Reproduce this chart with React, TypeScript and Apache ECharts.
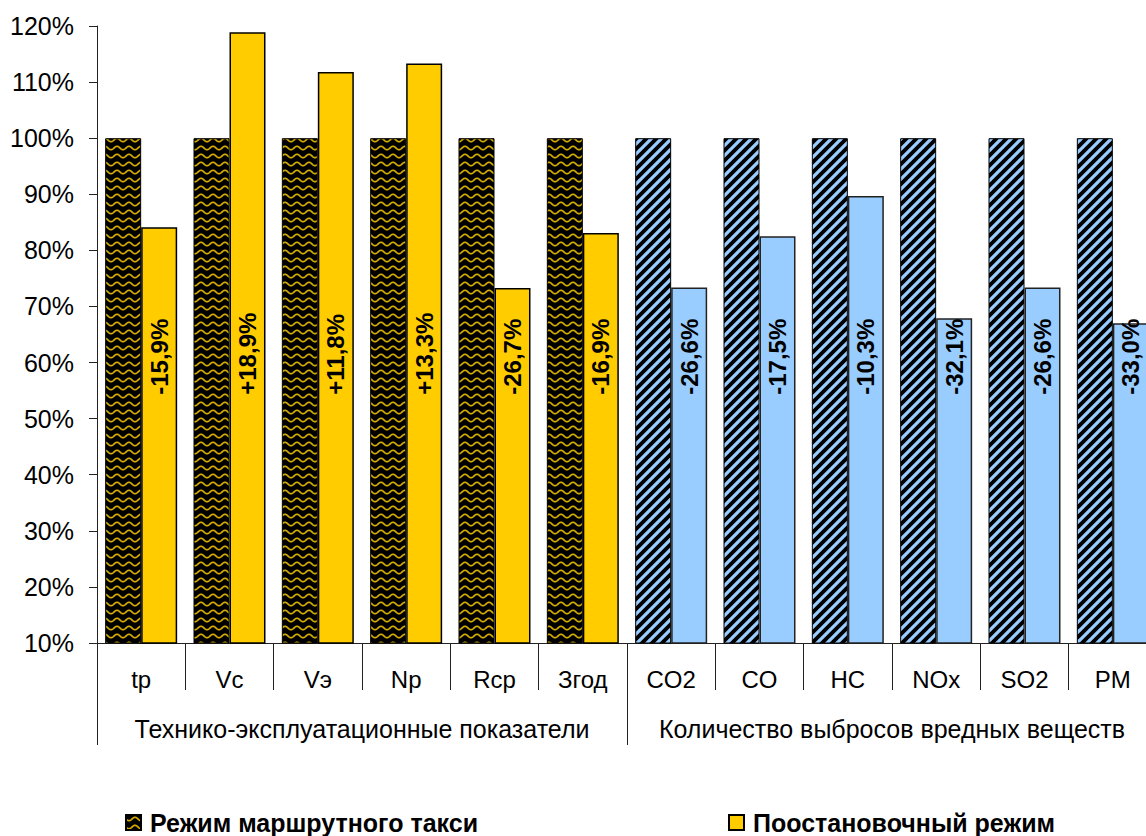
import React, { useEffect, useRef } from 'react';
import * as echarts from 'echarts';

const categories = ['tp', 'Vc', 'Vэ', 'Np', 'Rcp', 'Згод', 'CO2', 'CO', 'HC', 'NOx', 'SO2', 'PM'];
const groups = ['Технико-эксплуатационные показатели', 'Количество выбросов вредных веществ'];
const seriesNames = ['Режим маршрутного такси', 'Поостановочный режим'];
const baseValues = [100, 100, 100, 100, 100, 100, 100, 100, 100, 100, 100, 100];
const newValues = [84.1, 118.9, 111.8, 113.3, 73.3, 83.1, 73.4, 82.5, 89.7, 67.9, 73.4, 67.0];
const changeLabels = ['-15,9%', '+18,9%', '+11,8%', '+13,3%', '-26,7%', '-16,9%', '-26,6%', '-17,5%', '-10,3%', '-32,1%', '-26,6%', '-33,0%'];
const yTicks = { min: 10, max: 120, interval: 10 };

const FONT = "'Liberation Sans', Arial, sans-serif";
const YELLOW = '#FFCC00';
const BLUE = '#99CCFF';

function makeWave(): HTMLCanvasElement {
  const w = 12, h = 8;
  const c = document.createElement('canvas');
  c.width = w; c.height = h;
  const g = c.getContext('2d')!;
  g.fillStyle = '#000';
  g.fillRect(0, 0, w, h);
  g.strokeStyle = '#D2AA00';
  g.lineWidth = 1.7;
  g.beginPath();
  let first = true;
  for (let x = -1; x <= w + 1; x += 0.5) {
    const y = h / 2 + 1.7 * Math.sin((2 * Math.PI * x) / w);
    if (first) { g.moveTo(x, y); first = false; } else g.lineTo(x, y);
  }
  g.stroke();
  return c;
}

function makeStripes(): HTMLCanvasElement {
  const n = 10;
  const c = document.createElement('canvas');
  c.width = n; c.height = n;
  const g = c.getContext('2d')!;
  g.fillStyle = '#000';
  g.fillRect(0, 0, n, n);
  g.strokeStyle = BLUE;
  g.lineWidth = 3.2;
  g.beginPath();
  for (const o of [-n, 0, n]) {
    g.moveTo(o - 1, n + 1);
    g.lineTo(o + n + 1, -1);
  }
  g.stroke();
  return c;
}

export default function App() {
  const ref = useRef<HTMLDivElement>(null);
  useEffect(() => {
    if (!ref.current) return;
    const chart = echarts.init(ref.current, null, { renderer: 'svg' });
    const wave = { image: makeWave(), repeat: 'repeat' };
    const stripes = { image: makeStripes(), repeat: 'repeat' };
    const perGroup = categories.length / groups.length;
    const legendText = { fontFamily: FONT, fontSize: 25, fontWeight: 'bold', color: '#000', padding: [0, 0, 0, 4] };

    chart.setOption({
      animation: false,
      backgroundColor: '#fff',
      grid: { left: 97, top: 26, width: 1060, height: 617, containLabel: false },
      legend: [
        {
          data: [seriesNames[0]],
          left: 120,
          top: 805,
          icon: 'rect',
          itemWidth: 15,
          itemHeight: 15,
          selectedMode: false,
          textStyle: legendText,
        },
        {
          data: [seriesNames[1]],
          left: 723,
          top: 805,
          icon: 'rect',
          itemWidth: 15,
          itemHeight: 15,
          selectedMode: false,
          textStyle: legendText,
        },
      ],
      xAxis: [
        {
          type: 'category',
          data: categories,
          position: 'bottom',
          boundaryGap: true,
          axisLine: { show: true, lineStyle: { color: '#222', width: 1 } },
          axisTick: { show: true, interval: 0, length: 47, lineStyle: { color: '#222', width: 1 } },
          axisLabel: { interval: 0, margin: 24, fontFamily: FONT, fontSize: 24, color: '#000' },
          splitLine: { show: false },
        },
        {
          type: 'category',
          data: groups,
          position: 'bottom',
          boundaryGap: true,
          axisLine: { show: false },
          axisTick: { show: true, interval: 0, length: 102, lineStyle: { color: '#222', width: 1 } },
          axisLabel: { interval: 0, margin: 73, fontFamily: FONT, fontSize: 25, color: '#000' },
          splitLine: { show: false },
        },
      ],
      yAxis: {
        type: 'value',
        min: yTicks.min,
        max: yTicks.max,
        interval: yTicks.interval,
        axisLine: { show: true, lineStyle: { color: '#222', width: 1 } },
        axisTick: { show: true, length: 8, inside: false, lineStyle: { color: '#222', width: 1 } },
        axisLabel: { formatter: '{value}%', margin: 23, fontFamily: FONT, fontSize: 25, color: '#000' },
        splitLine: { show: false },
      },
      series: [
        {
          name: seriesNames[0],
          type: 'bar',
          xAxisIndex: 0,
          barGap: '0%',
          barCategoryGap: '18.5%',
          itemStyle: { color: wave, borderColor: '#000', borderWidth: 1 },
          data: baseValues.map((v, i) => (i < perGroup ? v : { value: v, itemStyle: { color: stripes } })),
        },
        {
          name: seriesNames[1],
          type: 'bar',
          xAxisIndex: 0,
          barGap: '0%',
          barCategoryGap: '18.5%',
          itemStyle: { color: YELLOW, borderColor: '#000', borderWidth: 1.5 },
          label: {
            show: true,
            position: 'insideBottom',
            distance: 249,
            rotate: 90,
            align: 'left',
            verticalAlign: 'middle',
            fontFamily: FONT,
            fontSize: 24,
            fontWeight: 'bold',
            color: '#000',
            formatter: (p: any) => changeLabels[p.dataIndex],
          },
          data: newValues.map((v, i) =>
            i < perGroup ? v : { value: v, itemStyle: { color: BLUE, borderColor: '#222', borderWidth: 1.5 } }
          ),
        },
      ],
    });
    return () => chart.dispose();
  }, []);

  return (
    <div
      style={{ position: 'fixed', left: 0, top: 0, width: 1146, height: 836, overflow: 'hidden', background: '#fff' }}
    >
      <div ref={ref} style={{ width: 1170, height: 836 }} />
    </div>
  );
}
